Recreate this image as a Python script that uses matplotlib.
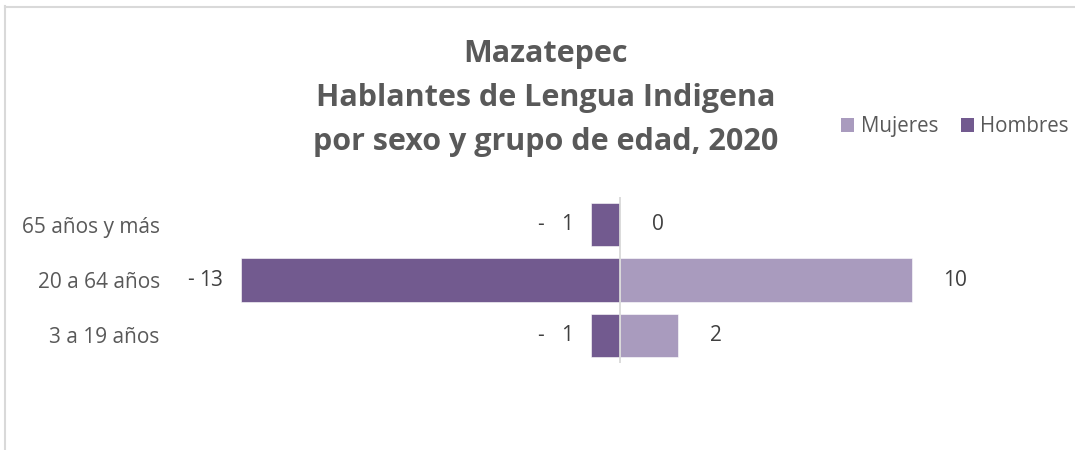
import matplotlib
matplotlib.use("Agg")
import matplotlib.pyplot as plt
from matplotlib.patches import Patch
from matplotlib.lines import Line2D

# ---- data ----
categories = ["3 a 19 años", "20 a 64 años", "65 años y más"]
hombres = [-1, -13, -1]
mujeres = [2, 10, 0]
series_names = ["Mujeres", "Hombres"]
title_lines = ["Mazatepec", "Hablantes de Lengua Indigena", "por sexo y grupo de edad, 2020"]

c_h = "#725a8f"
c_m = "#a99bbe"
txt_dark = "#404040"
txt_mid = "#595959"

plt.rcParams['font.family'] = ['Open Sans', 'DejaVu Sans']

W, H = 1075, 450
fig = plt.figure(figsize=(W / 100, H / 100), dpi=100)
fig.patch.set_facecolor("white")

ax_left, ax_right = 182.75, 1057.25
ax_top, ax_bottom = 197, 363
ax = fig.add_axes([ax_left / W, 1 - ax_bottom / H,
                   (ax_right - ax_left) / W, (ax_bottom - ax_top) / H])

y = list(range(len(categories)))
ax.barh(y, hombres, height=0.78, color=c_h, edgecolor="white", linewidth=0.4, zorder=2)
ax.barh(y, mujeres, height=0.78, color=c_m, edgecolor="white", linewidth=0.4, zorder=2)
ax.set_xlim(-15, 15)
ax.set_ylim(-0.5, len(categories) - 0.5)
ax.axvline(0, color="#d9d9d9", lw=1.3, zorder=3)

for s in ax.spines.values():
    s.set_visible(False)
ax.set_xticks([])
ax.set_yticks(y)
ax.set_yticklabels(categories, fontsize=15, color=txt_mid)
ax.tick_params(axis="y", length=0, pad=16.5)

# data labels
for yi, v in zip(y, hombres):
    ax.annotate(f"{abs(v)}", (v, yi), xytext=(-18, 0), textcoords="offset pixels",
                ha="right", va="center", fontsize=15, color=txt_dark, annotation_clip=False)
    ax.annotate("-", (v, yi), xytext=(-47, 0), textcoords="offset pixels",
                ha="right", va="center", fontsize=15, color=txt_dark, annotation_clip=False)
for yi, v in zip(y, mujeres):
    ax.annotate(f"{v}", (v, yi), xytext=(32, 0), textcoords="offset pixels",
                ha="left", va="center", fontsize=15, color=txt_dark, annotation_clip=False)

# title
fig.text(546 / W, 1 - 98 / H, "\n".join(title_lines), ha="center", va="center",
         multialignment="center", fontsize=22, fontweight="bold", color=txt_mid,
         linespacing=1.62)

# legend
handles = [Patch(facecolor=c_m, edgecolor="none"), Patch(facecolor=c_h, edgecolor="none")]
fig.legend(handles, series_names, loc="center left", bbox_to_anchor=(841 / W, 1 - 127 / H),
           ncol=2, frameon=False, fontsize=14.8, labelcolor=txt_mid,
           handlelength=0.65, handleheight=0.65, handletextpad=0.3, columnspacing=1.1,
           borderaxespad=0, borderpad=0)

# chart border (only top and left visible in reference crop)
fig.add_artist(Line2D([5 / W, 1], [1 - 6.5 / H, 1 - 6.5 / H], color="#d9d9d9", lw=1.5,
                      transform=fig.transFigure))
fig.add_artist(Line2D([5.5 / W, 5.5 / W], [1 - 6 / H, 0], color="#d9d9d9", lw=1.5,
                      transform=fig.transFigure))

fig.savefig("out.png", dpi=100, facecolor="white")
